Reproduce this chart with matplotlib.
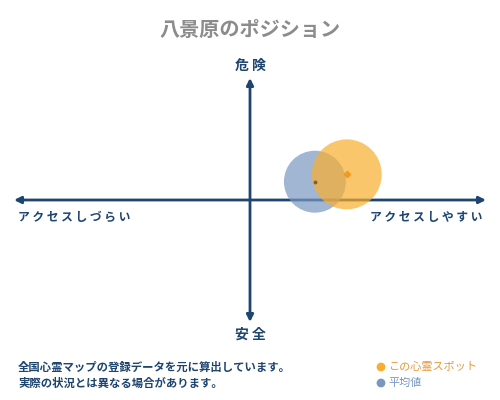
import matplotlib.pyplot as plt
import numpy as np

plt.rcParams['font.family'] = ['Noto Sans CJK JP', 'DejaVu Sans']

# position scores (-1..1): x = accessibility, y = danger
names = ["この心霊スポット", "平均値"]
pos_x = [0.41, 0.275]
pos_y = [0.21, 0.15]
sizes = [2540, 1990]
colors = ["#F9AE2E", "#7898C0"]
dot_colors = ["#F39A1E", "#8A5A2A"]
text_colors = ["#E8983A", "#7898C0"]

navy = "#1E4470"

fig = plt.figure(figsize=(5, 4), dpi=100)
fig.patch.set_facecolor("white")

# overlay axes for texts in pixel coords
bg = fig.add_axes([0, 0, 1, 1])
bg.set_xlim(0, 500)
bg.set_ylim(400, 0)
bg.axis("off")

ax = fig.add_axes([14 / 500, 1 - 322 / 400, 472 / 500, 244 / 400])
ax.set_xlim(-1, 1)
ax.set_ylim(-1, 1)
ax.axis("off")

# axes with arrows
ax.annotate("", xy=(-1, 0), xytext=(1, 0),
            arrowprops=dict(arrowstyle="<|-|>", color=navy, lw=2,
                            mutation_scale=10, shrinkA=0, shrinkB=0))
ax.annotate("", xy=(0, -1), xytext=(0, 1),
            arrowprops=dict(arrowstyle="<|-|>", color=navy, lw=2,
                            mutation_scale=10, shrinkA=0, shrinkB=0))

# average below, this spot on top
for i in range(len(names)):
    ax.scatter(pos_x[i], pos_y[i], s=sizes[i], color=colors[i], alpha=0.7,
               edgecolors="none", zorder=4 - i)
for i in range(len(names)):
    ax.scatter(pos_x[i], pos_y[i], s=10 if i == 0 else 3, marker="D" if i == 0 else "o",
               color=dot_colors[i], zorder=6)

bg.text(250, 30, "八景原のポジション", ha="center", va="center", fontsize=14.5,
        color="#8C8C8C", fontweight="bold")
bg.text(250, 66, "危 険", ha="center", va="center", fontsize=10, color=navy, fontweight="bold")
bg.text(250, 335, "安 全", ha="center", va="center", fontsize=10, color=navy, fontweight="bold")
bg.text(18, 217, "ア ク セ ス し づ ら い", ha="left", va="center", fontsize=8.5, color=navy,
        fontweight="bold")
bg.text(482, 217, "ア ク セ ス し や す い", ha="right", va="center", fontsize=8.5, color=navy,
        fontweight="bold")

bg.text(18, 367, "全国心霊マップの登録データを元に算出しています。", ha="left", va="center",
        fontsize=8.2, color=navy, fontweight="bold")
bg.text(18, 383, "実際の状況とは異なる場合があります。", ha="left", va="center",
        fontsize=8.2, color=navy, fontweight="bold")

for i, name in enumerate(names):
    yy = 367 + 16 * i
    bg.scatter(381, yy, s=40, color=colors[i], edgecolors="none")
    bg.text(388, yy, name, ha="left", va="center", fontsize=8, color=text_colors[i])

fig.savefig("out.png", dpi=100, facecolor="white")
